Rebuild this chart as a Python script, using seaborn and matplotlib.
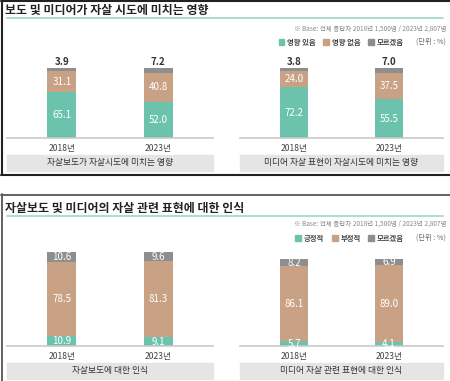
import matplotlib
matplotlib.use('Agg')
import matplotlib.pyplot as plt
from matplotlib.patches import Rectangle, Patch
from matplotlib.lines import Line2D
import seaborn as sns
import pandas as pd

sns.set_style('white')
plt.rcParams['font.family'] = ['Noto Sans CJK KR', 'DejaVu Sans']

years = ['2018년', '2023년']

# 보도 및 미디어가 자살 시도에 미치는 영향
news_yes = [65.1, 52.0]
news_no = [31.1, 40.8]
news_dk = [3.9, 7.2]
media_yes = [72.2, 55.5]
media_no = [24.0, 37.5]
media_dk = [3.8, 7.0]

# 자살보도 및 미디어의 자살 관련 표현에 대한 인식
rep_pos = [10.9, 9.1]
rep_neg = [78.5, 81.3]
rep_dk = [10.6, 9.6]
expr_pos = [5.7, 4.1]
expr_neg = [86.1, 89.0]
expr_dk = [8.2, 6.9]

top_title = '보도 및 미디어가 자살 시도에 미치는 영향'
bottom_title = '자살보도 및 미디어의 자살 관련 표현에 대한 인식'
base_note = '※ Base: 전체 응답자 2018년 1,500명 / 2023년 2,807명'
top_legend = ['영향 있음', '영향 없음', '모르겠음']
bottom_legend = ['긍정적', '부정적', '모르겠음']
captions = ['자살보도가 자살시도에 미치는 영향', '미디어 자살 표현이 자살시도에 미치는 영향',
            '자살보도에 대한 인식', '미디어 자살 관련 표현에 대한 인식']

TEAL = '#6cc3ad'
TAN = '#c9a285'
GREY = '#8e8e8e'
W, H = 450, 381

fig = plt.figure(figsize=(4.5, 3.81), dpi=100)


def fx(x):
    return x / W


def fy(y):
    return 1 - y / H


def stacked(x0, x1, ytop, ybase, low, mid, dk, dk_above, caption):
    ax = fig.add_axes([fx(x0), fy(ybase), fx(x1 - x0), (ybase - ytop) / H])
    df = pd.DataFrame({'year': years, 'low': low, 'mid': mid, 'dk': dk})
    df['c2'] = df['low'] + df['mid']
    df['c3'] = df['c2'] + df['dk']
    for col, c in [('c3', GREY), ('c2', TAN), ('low', TEAL)]:
        sns.barplot(data=df, x='year', y=col, color=c, width=0.3, saturation=1,
                    errorbar=None, ax=ax, linewidth=0)
    for i, r in df.iterrows():
        ax.text(i, r['low'] / 2, f"{r['low']:.1f}", ha='center', va='center',
                color='white', fontsize=7)
        ax.text(i, r['low'] + r['mid'] / 2, f"{r['mid']:.1f}", ha='center', va='center',
                color='white', fontsize=7)
        if dk_above:
            ax.text(i, r['c3'] + 8, f"{r['dk']:.1f}", ha='center', va='center',
                    color='#333333', fontsize=7, fontweight='bold')
        else:
            ax.text(i, r['c2'] + r['dk'] / 2, f"{r['dk']:.1f}", ha='center', va='center',
                    color='white', fontsize=7)
    ax.set_xlim(-0.57, 1.57)
    ax.set_ylim(0, 100)
    ax.set_xlabel('')
    ax.set_ylabel('')
    ax.set_yticks([])
    for s in ['top', 'left', 'right']:
        ax.spines[s].set_visible(False)
    ax.spines['bottom'].set_color('#c9c9c9')
    ax.spines['bottom'].set_linewidth(1.2)
    ax.set_xticks([0.5], minor=True)
    ax.tick_params(axis='x', which='major', length=0, pad=4, labelsize=6.2, labelcolor='#444444')
    ax.tick_params(axis='x', which='minor', length=3, direction='in', color='#999999', width=0.8)
    ax.patch.set_alpha(0)
    # caption box
    cy = ybase + 17
    fig.patches.append(Rectangle((fx(x0), fy(cy + 16)), fx(x1 - x0), 16 / H,
                                 transform=fig.transFigure, color='#e5e5e5', zorder=0))
    fig.text(fx((x0 + x1) / 2), fy(cy + 8), caption, ha='center', va='center',
             fontsize=6.3, color='#333333')
    return ax


def header(ytitle, yline, ynote, ylegend, title, labels):
    fig.text(fx(5), fy(ytitle), title, ha='left', va='center', fontsize=8.6,
             fontweight='bold', color='#222222')
    fig.add_artist(Line2D([fx(7), fx(443)], [fy(yline), fy(yline)], color='#a9d9cd', lw=1.3))
    fig.text(fx(446), fy(ynote), base_note, ha='right', va='center', fontsize=4.7,
             color='#8a8a8a')
    fig.text(fx(446), fy(ylegend), '(단위 : %)', ha='right', va='center', fontsize=5.2,
             color='#666666')
    handles = [Patch(color=c, label=l) for c, l in zip([TEAL, TAN, GREY], labels)]
    leg = fig.legend(handles=handles, ncol=3, loc='center right',
                     bbox_to_anchor=(fx(404), fy(ylegend)), frameon=False,
                     prop={'size': 5.3, 'weight': 'bold'}, handlelength=0.8, handleheight=0.8,
                     handletextpad=0.4, columnspacing=1.0, borderpad=0, borderaxespad=0)
    for t in leg.get_texts():
        t.set_color('#444444')


header(10, 18, 29, 42, top_title, top_legend)
header(208, 216, 224, 238, bottom_title, bottom_legend)

stacked(7, 213, 68, 138, news_yes, news_no, news_dk, True, captions[0])
stacked(240, 443, 68, 138, media_yes, media_no, media_dk, True, captions[1])
stacked(7, 213, 252, 346, rep_pos, rep_neg, rep_dk, False, captions[2])
stacked(240, 443, 259, 346, expr_pos, expr_neg, expr_dk, False, captions[3])

# panel borders
for xs, ys, lw, c in [([1, 450], [0.5, 0.5], 1.5, '#222222'),
                      ([1.5, 1.5], [0, 175], 1.5, '#222222'),
                      ([1, 450], [175, 175], 1.5, '#222222'),
                      ([1, 450], [194.5, 194.5], 1.3, '#555555'),
                      ([1.5, 1.5], [194, 381], 1.3, '#555555')]:
    fig.add_artist(Line2D([fx(v) for v in xs], [fy(v) for v in ys], color=c, lw=lw))

fig.savefig('out.png', dpi=100)
